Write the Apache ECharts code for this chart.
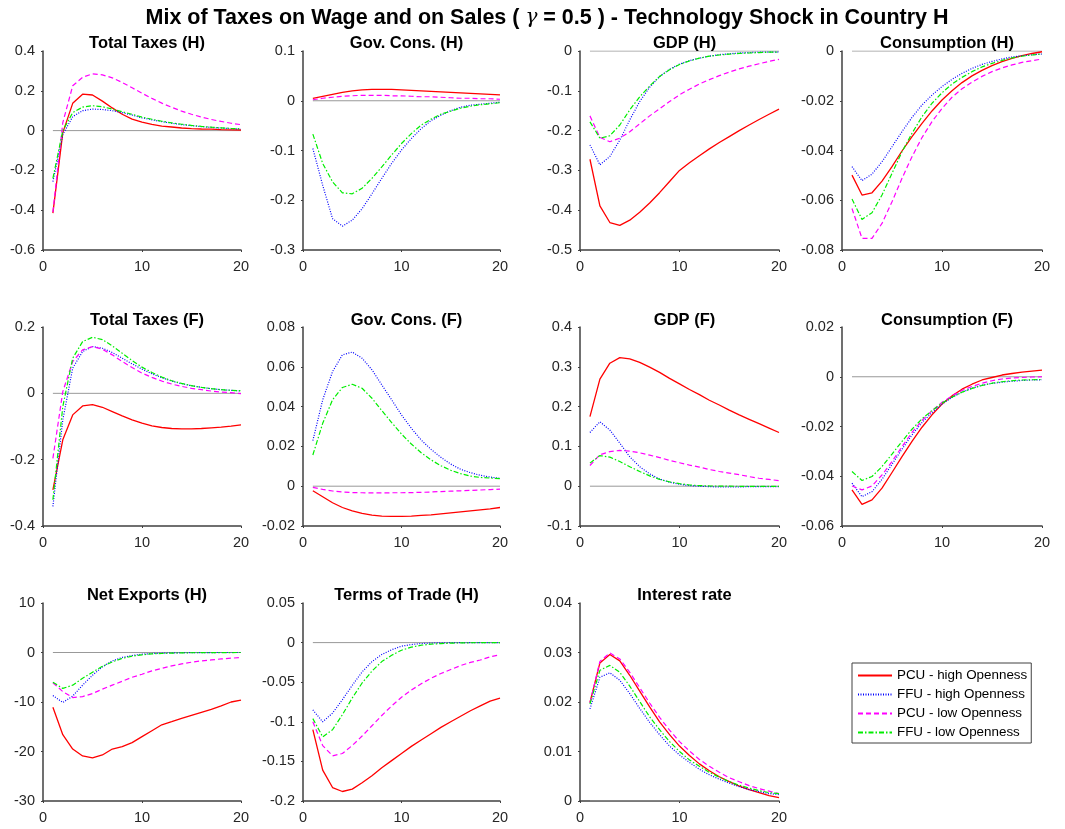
<!DOCTYPE html>
<html>
<head>
<meta charset="utf-8">
<script src="https://cdn.jsdelivr.net/npm/echarts@6/dist/echarts.min.js"></script>
<style>
html,body{margin:0;padding:0;background:#fff;}
#chart{width:1065px;height:829px;}
</style>
</head>
<body>
<div id="chart"></div>
<script>
// ---------------- DATA ----------------
const periods = [1,2,3,4,5,6,7,8,9,10,11,12,13,14,15,16,17,18,19,20];
const seriesNames = ['PCU - high Openness','FFU - high Openness','PCU - low Openness','FFU - low Openness'];
const xTicks = [0,10,20];

// Total Taxes (H)
const ttH_pcuHigh = [-0.415,-0.01,0.137,0.183,0.179,0.148,0.114,0.082,0.058,0.043,0.031,0.023,0.018,0.013,0.010,0.008,0.007,0.005,0.004,0.003];
const ttH_ffuHigh = [-0.256,-0.02,0.070,0.100,0.108,0.106,0.100,0.090,0.078,0.064,0.054,0.045,0.037,0.030,0.025,0.020,0.016,0.013,0.010,0.008];
const ttH_pcuLow  = [-0.410,0.040,0.225,0.268,0.285,0.280,0.265,0.242,0.215,0.188,0.162,0.138,0.117,0.098,0.082,0.068,0.056,0.046,0.037,0.030];
const ttH_ffuLow  = [-0.240,0.000,0.090,0.118,0.125,0.120,0.108,0.095,0.082,0.068,0.057,0.047,0.039,0.032,0.026,0.021,0.017,0.014,0.011,0.009];

// Gov. Cons. (H)
const gcH_pcuHigh = [0.005,0.009,0.013,0.017,0.020,0.022,0.023,0.023,0.023,0.022,0.021,0.020,0.019,0.018,0.017,0.016,0.015,0.014,0.013,0.012];
const gcH_ffuHigh = [-0.096,-0.170,-0.237,-0.252,-0.240,-0.217,-0.187,-0.156,-0.126,-0.099,-0.076,-0.056,-0.040,-0.029,-0.020,-0.013,-0.009,-0.007,-0.005,-0.003];
const gcH_pcuLow  = [0.002,0.005,0.007,0.009,0.010,0.011,0.011,0.011,0.010,0.010,0.009,0.008,0.008,0.007,0.006,0.005,0.005,0.004,0.004,0.003];
const gcH_ffuLow  = [-0.067,-0.126,-0.163,-0.185,-0.187,-0.176,-0.156,-0.133,-0.109,-0.086,-0.066,-0.049,-0.037,-0.027,-0.021,-0.015,-0.011,-0.008,-0.006,-0.004];

// GDP (H)
const gdpH_pcuHigh = [-0.272,-0.389,-0.431,-0.438,-0.425,-0.405,-0.382,-0.356,-0.328,-0.300,-0.281,-0.263,-0.246,-0.230,-0.215,-0.200,-0.186,-0.172,-0.159,-0.146];
const gdpH_ffuHigh = [-0.236,-0.286,-0.265,-0.224,-0.173,-0.127,-0.091,-0.064,-0.046,-0.033,-0.024,-0.018,-0.013,-0.009,-0.007,-0.005,-0.004,-0.003,-0.003,-0.0025];
const gdpH_pcuLow  = [-0.163,-0.217,-0.228,-0.219,-0.203,-0.183,-0.163,-0.145,-0.127,-0.110,-0.096,-0.083,-0.072,-0.062,-0.053,-0.045,-0.038,-0.032,-0.026,-0.021];
const gdpH_ffuLow  = [-0.178,-0.219,-0.213,-0.186,-0.148,-0.115,-0.088,-0.064,-0.047,-0.034,-0.025,-0.018,-0.013,-0.010,-0.008,-0.006,-0.005,-0.004,-0.003,-0.003];

// Consumption (H)
const cH_pcuHigh = [-0.0499,-0.0579,-0.0570,-0.0523,-0.0465,-0.0402,-0.0344,-0.0291,-0.0241,-0.0197,-0.0160,-0.0127,-0.0100,-0.0078,-0.0059,-0.0043,-0.0030,-0.0019,-0.0010,-0.0003];
const cH_ffuHigh = [-0.0465,-0.0521,-0.0495,-0.0445,-0.0385,-0.0324,-0.0267,-0.0217,-0.0177,-0.0143,-0.0114,-0.0090,-0.0070,-0.0054,-0.0042,-0.0032,-0.0024,-0.0019,-0.0015,-0.0012];
const cH_pcuLow  = [-0.0633,-0.0753,-0.0753,-0.0693,-0.0606,-0.0512,-0.0425,-0.0348,-0.0284,-0.0231,-0.0186,-0.0152,-0.0125,-0.0102,-0.0083,-0.0068,-0.0056,-0.0046,-0.0039,-0.0032];
const cH_ffuLow  = [-0.0595,-0.0677,-0.0650,-0.0579,-0.0492,-0.0405,-0.0331,-0.0264,-0.0210,-0.0168,-0.0133,-0.0106,-0.0083,-0.0064,-0.0050,-0.0038,-0.0028,-0.0021,-0.0016,-0.0012];

// Total Taxes (F)
const ttF_pcuHigh = [-0.291,-0.140,-0.065,-0.038,-0.034,-0.042,-0.055,-0.068,-0.080,-0.090,-0.098,-0.103,-0.106,-0.107,-0.107,-0.106,-0.104,-0.102,-0.099,-0.095];
const ttF_ffuHigh = [-0.341,-0.080,0.076,0.126,0.141,0.136,0.123,0.106,0.089,0.073,0.059,0.047,0.037,0.029,0.023,0.018,0.014,0.011,0.009,0.007];
const ttF_pcuLow  = [-0.196,0.005,0.096,0.131,0.141,0.133,0.116,0.096,0.078,0.061,0.048,0.037,0.028,0.021,0.015,0.011,0.007,0.004,0.002,-0.001];
const ttF_ffuLow  = [-0.321,-0.040,0.106,0.156,0.169,0.162,0.143,0.121,0.099,0.079,0.063,0.049,0.038,0.030,0.023,0.018,0.014,0.011,0.009,0.008];

// Gov. Cons. (F)
const gcF_pcuHigh = [-0.0023,-0.0053,-0.0083,-0.0107,-0.0124,-0.0137,-0.0145,-0.0150,-0.0152,-0.0152,-0.0150,-0.0147,-0.0144,-0.0139,-0.0134,-0.0129,-0.0124,-0.0119,-0.0114,-0.0107];
const gcF_ffuHigh = [0.0229,0.0434,0.0576,0.0660,0.0674,0.0643,0.0585,0.0509,0.0434,0.0358,0.0291,0.0232,0.0185,0.0145,0.0111,0.0085,0.0068,0.0055,0.0046,0.0039];
const gcF_pcuLow  = [-0.0006,-0.0016,-0.0024,-0.0029,-0.0032,-0.0033,-0.0034,-0.0034,-0.0033,-0.0033,-0.0032,-0.0031,-0.0029,-0.0027,-0.0025,-0.0023,-0.0021,-0.0019,-0.0017,-0.0015];
const gcF_ffuLow  = [0.0157,0.0316,0.0434,0.0496,0.0512,0.0492,0.0442,0.0380,0.0320,0.0262,0.0212,0.0168,0.0132,0.0103,0.0080,0.0063,0.0051,0.0044,0.0041,0.0038];

// GDP (F)
const gdpF_pcuHigh = [0.175,0.269,0.309,0.323,0.320,0.311,0.299,0.286,0.271,0.257,0.243,0.230,0.216,0.204,0.191,0.179,0.168,0.157,0.146,0.135];
const gdpF_ffuHigh = [0.135,0.162,0.141,0.108,0.074,0.049,0.031,0.018,0.010,0.005,0.0015,0.000,-0.001,-0.002,-0.002,-0.002,-0.001,-0.001,-0.001,-0.001];
const gdpF_pcuLow  = [0.052,0.079,0.087,0.090,0.088,0.084,0.078,0.072,0.065,0.059,0.053,0.048,0.042,0.037,0.033,0.029,0.024,0.020,0.017,0.014];
const gdpF_ffuLow  = [0.058,0.077,0.073,0.062,0.049,0.037,0.026,0.017,0.011,0.0065,0.003,0.0015,0.0007,0.0003,0.000,-0.0002,-0.0003,-0.0004,-0.0004,-0.0004];

// Consumption (F)
const cF_pcuHigh = [-0.0455,-0.0513,-0.0495,-0.0448,-0.0385,-0.0321,-0.0260,-0.0203,-0.0153,-0.0110,-0.0077,-0.0050,-0.0030,-0.0013,-0.0003,0.0007,0.0013,0.0019,0.0023,0.0027];
const cF_ffuHigh = [-0.0428,-0.0482,-0.0462,-0.0412,-0.0352,-0.0291,-0.0234,-0.0184,-0.0144,-0.0110,-0.0083,-0.0062,-0.0046,-0.0034,-0.0027,-0.0022,-0.0018,-0.0015,-0.0013,-0.0012];
const cF_pcuLow  = [-0.0439,-0.0455,-0.0439,-0.0395,-0.0341,-0.0281,-0.0224,-0.0176,-0.0136,-0.0103,-0.0077,-0.0055,-0.0039,-0.0026,-0.0016,-0.0009,-0.0005,-0.0003,-0.0001,0.0000];
const cF_ffuLow  = [-0.0381,-0.0417,-0.0401,-0.0361,-0.0311,-0.0260,-0.0211,-0.0169,-0.0136,-0.0106,-0.0082,-0.0062,-0.0047,-0.0035,-0.0026,-0.0020,-0.0016,-0.0013,-0.0012,-0.0011];

// Net Exports (H)
const nxH_pcuHigh = [-11.07,-16.6,-19.5,-20.9,-21.3,-20.7,-19.5,-19.0,-18.2,-17.0,-15.8,-14.6,-13.96,-13.3,-12.7,-12.1,-11.5,-10.8,-10.0,-9.6];
const nxH_ffuHigh = [-8.7,-10.1,-8.8,-6.6,-4.6,-2.9,-1.7,-1.0,-0.6,-0.34,-0.2,-0.13,-0.08,-0.05,-0.03,-0.02,-0.01,0,0,0];
const nxH_pcuLow  = [-6.1,-7.9,-9.1,-8.9,-8.3,-7.4,-6.6,-5.8,-5.0,-4.4,-3.7,-3.2,-2.7,-2.3,-1.95,-1.7,-1.5,-1.3,-1.15,-1.0];
const nxH_ffuLow  = [-6.0,-7.25,-6.6,-5.2,-4.0,-2.8,-1.9,-1.2,-0.74,-0.47,-0.27,-0.2,-0.12,-0.08,-0.05,-0.03,-0.02,-0.01,-0.01,0];

// Terms of Trade (H)
const totH_pcuHigh = [-0.110,-0.161,-0.183,-0.188,-0.185,-0.177,-0.168,-0.158,-0.149,-0.140,-0.131,-0.123,-0.115,-0.107,-0.100,-0.093,-0.086,-0.080,-0.074,-0.070];
const totH_ffuHigh = [-0.085,-0.100,-0.089,-0.072,-0.054,-0.037,-0.024,-0.015,-0.009,-0.0045,-0.0025,-0.0012,-0.0006,-0.0003,-0.0001,0,0,0,0,0];
const totH_pcuLow  = [-0.100,-0.130,-0.143,-0.140,-0.130,-0.118,-0.105,-0.092,-0.080,-0.069,-0.060,-0.052,-0.045,-0.039,-0.034,-0.029,-0.025,-0.022,-0.018,-0.0155];
const totH_ffuLow  = [-0.096,-0.119,-0.110,-0.091,-0.070,-0.051,-0.036,-0.024,-0.016,-0.0096,-0.0058,-0.0033,-0.0020,-0.0012,-0.0007,-0.0004,-0.0002,-0.0001,0,0];

// Interest rate
const ir_pcuHigh = [0.0199,0.0279,0.0296,0.0283,0.0254,0.0222,0.0190,0.0160,0.0134,0.0111,0.0092,0.0075,0.0061,0.0049,0.0039,0.0030,0.0023,0.0017,0.0011,0.0007];
const ir_ffuHigh = [0.0186,0.0250,0.0259,0.0244,0.0217,0.0187,0.0159,0.0134,0.0111,0.0093,0.0078,0.0064,0.0053,0.0044,0.0036,0.0029,0.0023,0.0019,0.0015,0.0013];
const ir_pcuLow  = [0.0198,0.0282,0.0299,0.0287,0.0260,0.0229,0.0198,0.0169,0.0143,0.0120,0.0101,0.0084,0.0070,0.0058,0.0047,0.0039,0.0031,0.0025,0.0020,0.0015];
const ir_ffuLow  = [0.0196,0.0264,0.0274,0.0260,0.0232,0.0201,0.0170,0.0144,0.0120,0.0100,0.0083,0.0070,0.0058,0.0048,0.0039,0.0032,0.0026,0.0021,0.0017,0.0015];

const panels = [
  {title:'Total Taxes (H)',      min:-0.6, max:0.4,  step:0.2,  data:[ttH_pcuHigh,ttH_ffuHigh,ttH_pcuLow,ttH_ffuLow]},
  {title:'Gov. Cons. (H)',       min:-0.3, max:0.1,  step:0.1,  data:[gcH_pcuHigh,gcH_ffuHigh,gcH_pcuLow,gcH_ffuLow]},
  {title:'GDP (H)',              min:-0.5, max:0,    step:0.1,  data:[gdpH_pcuHigh,gdpH_ffuHigh,gdpH_pcuLow,gdpH_ffuLow]},
  {title:'Consumption (H)',      min:-0.08,max:0,    step:0.02, data:[cH_pcuHigh,cH_ffuHigh,cH_pcuLow,cH_ffuLow]},
  {title:'Total Taxes (F)',      min:-0.4, max:0.2,  step:0.2,  data:[ttF_pcuHigh,ttF_ffuHigh,ttF_pcuLow,ttF_ffuLow]},
  {title:'Gov. Cons. (F)',       min:-0.02,max:0.08, step:0.02, data:[gcF_pcuHigh,gcF_ffuHigh,gcF_pcuLow,gcF_ffuLow]},
  {title:'GDP (F)',              min:-0.1, max:0.4,  step:0.1,  data:[gdpF_pcuHigh,gdpF_ffuHigh,gdpF_pcuLow,gdpF_ffuLow]},
  {title:'Consumption (F)',      min:-0.06,max:0.02, step:0.02, data:[cF_pcuHigh,cF_ffuHigh,cF_pcuLow,cF_ffuLow]},
  {title:'Net Exports (H)',      min:-30,  max:10,   step:10,   data:[nxH_pcuHigh,nxH_ffuHigh,nxH_pcuLow,nxH_ffuLow]},
  {title:'Terms of Trade (H)',   min:-0.2, max:0.05, step:0.05, data:[totH_pcuHigh,totH_ffuHigh,totH_pcuLow,totH_ffuLow]},
  {title:'Interest rate',        min:0,    max:0.04, step:0.01, data:[ir_pcuHigh,ir_ffuHigh,ir_pcuLow,ir_ffuLow]}
];

// ---------------- LAYOUT / STYLE ----------------
const colLeft = [43, 303, 580, 842];
const colWidth = [198, 197, 199, 200];
const rowTop = [51, 327, 603];
const rowHeight = [199, 199, 198];
const titleY = [40, 317, 592];
const lineStyles = [
  {color:'#ff0000', width:1.3, type:'solid'},
  {color:'#0000ff', width:1.2, type:[1,1.5]},
  {color:'#ff00ff', width:1.2, type:[5,3]},
  {color:'#00ee00', width:1.2, type:[5,2,1.5,2]}
];
const FONT = '"Liberation Sans", Arial, Helvetica, sans-serif';
const axisColor = '#404040';
const labelColor = '#262626';

const grids = [], xAxes = [], yAxes = [], series = [], titles = [];
titles.push({
  text: 'Mix of Taxes on Wage and on Sales ( {g|γ} = 0.5 ) - Technology Shock in Country H',
  left: 542, top: 2, textAlign: 'center',
  textStyle: {fontFamily: FONT, fontSize: 21.5, fontWeight: 'bold', color: '#000',
    rich: {g: {fontFamily: '"DejaVu Serif", serif', fontStyle: 'italic', fontWeight: 'normal', fontSize: 20, color:'#000'}}}
});

panels.forEach((p, i) => {
  const r = Math.floor(i / 4), c = i % 4;
  grids.push({left: colLeft[c], top: rowTop[r], width: colWidth[c], height: rowHeight[r],
              containLabel: false, outerBoundsMode: 'none'});
  titles.push({text: p.title, left: colLeft[c] + colWidth[c] / 2, top: titleY[r] - 10, textAlign: 'center',
               textStyle: {fontFamily: FONT, fontSize: 16.5, fontWeight: 'bold', color: '#000'}});
  xAxes.push({type: 'value', gridIndex: i, min: xTicks[0], max: xTicks[2], interval: xTicks[1] - xTicks[0],
    axisLine: {show: true, onZero: false, lineStyle: {color: axisColor, width: 1.5}},
    axisTick: {show: true, inside: false, length: 2, lineStyle: {color: axisColor}},
    axisLabel: {show: true, fontFamily: FONT, fontSize: 14.5, color: labelColor, margin: 9},
    splitLine: {show: false}});
  yAxes.push({type: 'value', gridIndex: i, min: p.min, max: p.max, interval: p.step,
    axisLine: {show: true, onZero: false, lineStyle: {color: axisColor, width: 1.5}},
    axisTick: {show: true, inside: false, length: 2, lineStyle: {color: axisColor}},
    axisLabel: {show: true, fontFamily: FONT, fontSize: 14.5, color: labelColor, margin: 8},
    splitLine: {show: false}});
  // zero reference line
  series.push({type: 'line', name: 'zero', xAxisIndex: i, yAxisIndex: i, silent: true,
    data: [[periods[0], 0], [periods[periods.length - 1], 0]], symbol: 'none',
    lineStyle: {color: '#999999', width: 1}, z: 1});
  p.data.forEach((vals, k) => {
    series.push({type: 'line', name: seriesNames[k], xAxisIndex: i, yAxisIndex: i,
      data: vals.map((v, j) => [periods[j], v]), symbol: 'none', showSymbol: false,
      lineStyle: lineStyles[k], itemStyle: {color: lineStyles[k].color}, z: 2 + k});
  });
});

const chart = echarts.init(document.getElementById('chart'), null, {renderer: 'canvas'});
chart.setOption({
  backgroundColor: '#ffffff',
  animation: false,
  title: titles,
  grid: grids,
  xAxis: xAxes,
  yAxis: yAxes,
  legend: {
    data: seriesNames, orient: 'vertical', left: 852, top: 663,
    itemWidth: 34, itemHeight: 14, itemGap: 6,
    itemStyle: {opacity: 0, borderWidth: 0},
    padding: [6, 4, 4, 5], borderColor: '#404040', borderWidth: 1, borderRadius: 0,
    backgroundColor: '#ffffff', selectedMode: false,
    textStyle: {fontFamily: FONT, fontSize: 13.4, color: '#000'}
  },
  series: series
});
</script>
</body>
</html>
